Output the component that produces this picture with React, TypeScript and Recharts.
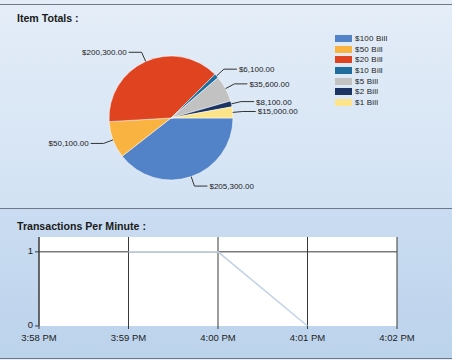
import React from 'react';
import { PieChart, Pie, Cell, Legend, LineChart, Line, XAxis, YAxis, CartesianGrid } from 'recharts';

const bills = ['$100 Bill', '$50 Bill', '$20 Bill', '$10 Bill', '$5 Bill', '$2 Bill', '$1 Bill'];
const totals = [205300, 50100, 200300, 6100, 35600, 8100, 15000];
const billColors = ['#5283c8', '#f8b341', '#e0431f', '#1f6c9e', '#c2c2c2', '#1c3463', '#fbe48a'];

const minutes = ['3:58 PM', '3:59 PM', '4:00 PM', '4:01 PM', '4:02 PM'];
const transactions: (number | null)[] = [null, 1, 1, 0, null];

const pieData = bills.map((name, i) => ({ name, value: totals[i] }));
const lineData = minutes.map((time, i) => ({ time, tpm: transactions[i] }));

const font = 'Arial, "Liberation Sans", sans-serif';
const RADIAN = Math.PI / 180;

const money = (v: number) =>
  '$' + v.toLocaleString('en-US', { minimumFractionDigits: 2, maximumFractionDigits: 2 });

const renderLabel = (props: any) => {
  const { cx, cy, midAngle, outerRadius, value } = props;
  const cos = Math.cos(midAngle * RADIAN);
  const sin = Math.sin(midAngle * RADIAN);
  const sx = cx + outerRadius * cos;
  const sy = cy - outerRadius * sin;
  const mx = cx + (outerRadius + 10) * cos;
  const my = cy - (outerRadius + 10) * sin;
  const right = cos >= 0;
  const ex = mx + (right ? 13 : -13);
  return (
    <g>
      <polyline points={`${sx},${sy} ${mx},${my} ${ex},${my}`} fill="none" stroke="#333" strokeWidth={1} />
      <text
        x={ex + (right ? 2 : -2)}
        y={my}
        dy={3}
        textAnchor={right ? 'start' : 'end'}
        fontSize={8}
        fontFamily={font}
        fill="#222"
      >
        {money(value)}
      </text>
    </g>
  );
};

const renderLegend = () => (
  <div style={{ fontFamily: font, fontSize: 8, letterSpacing: 0.2, color: '#222' }}>
    {bills.map((b, i) => (
      <div key={b} style={{ display: 'flex', alignItems: 'center', height: 10.7 }}>
        <span style={{ display: 'inline-block', width: 17, height: 7, background: billColors[i], marginRight: 3 }} />
        <span style={{ color: '#222' }}>{b}</span>
      </div>
    ))}
  </div>
);

const titleStyle: React.CSSProperties = {
  position: 'absolute',
  left: 17,
  fontFamily: font,
  fontWeight: 'bold',
  fontSize: 10.6,
  color: '#1a1a1a',
};

export default function App() {
  return (
    <div style={{ position: 'absolute', left: 0, top: 0, width: 452, height: 360, overflow: 'hidden', background: '#e4edf7' }}>
      <div style={{ position: 'absolute', left: 0, top: 4, width: 452, height: 204, background: 'linear-gradient(#e4edf8, #d2e2f3)', borderTop: '1px solid #6f7886' }} />
      <div style={{ position: 'absolute', left: 0, top: 208, width: 452, height: 149, background: 'linear-gradient(#cadcf1, #bcd3ec)', borderTop: '1px solid #6f7886', borderBottom: '1px solid #6f7886' }} />

      <div style={{ ...titleStyle, top: 12 }}>Item Totals :</div>
      <div style={{ ...titleStyle, top: 220 }}>Transactions Per Minute :</div>

      <div style={{ position: 'absolute', left: 0, top: 0 }}>
        <PieChart width={452} height={205}>
          <Pie
            data={pieData}
            dataKey="value"
            nameKey="name"
            cx={166}
            cy={113}
            outerRadius={62}
            startAngle={0}
            endAngle={-360}
            stroke="#ffffff"
            strokeWidth={0.5}
            label={renderLabel}
            labelLine={false}
            isAnimationActive={false}
          >
            {pieData.map((d, i) => (
              <Cell key={d.name} fill={billColors[i]} />
            ))}
          </Pie>
          <Legend
            layout="vertical"
            verticalAlign="top"
            align="right"
            content={renderLegend}
            wrapperStyle={{ left: 335, top: 33, width: 100 }}
          />
        </PieChart>
      </div>

      <div style={{ position: 'absolute', left: 0, top: 208 }}>
        <LineChart width={452} height={150} data={lineData} margin={{ top: 29, right: 55, bottom: 10, left: 0 }}>
          <CartesianGrid fill="#ffffff" stroke="#3a3a3a" strokeWidth={1} horizontalValues={[1]} />
          <XAxis
            dataKey="time"
            axisLine={false}
            tickLine={{ stroke: '#3a3a3a' }}
            tickSize={3}
            height={22}
            interval={0}
            tick={{ fontSize: 9.5, fontFamily: font, fill: '#222', dy: 3 }}
          />
          <YAxis
            domain={[0, 1.2]}
            ticks={[0, 1]}
            width={39}
            axisLine={{ stroke: '#3a3a3a' }}
            tickLine={{ stroke: '#3a3a3a' }}
            tickSize={4}
            tick={{ fontSize: 9.5, fontFamily: font, fill: '#222', dy: -1 }}
          />
          <Line
            dataKey="tpm"
            stroke="#c3d2e6"
            strokeWidth={1.5}
            dot={false}
            connectNulls={false}
            isAnimationActive={false}
          />
        </LineChart>
      </div>
    </div>
  );
}
